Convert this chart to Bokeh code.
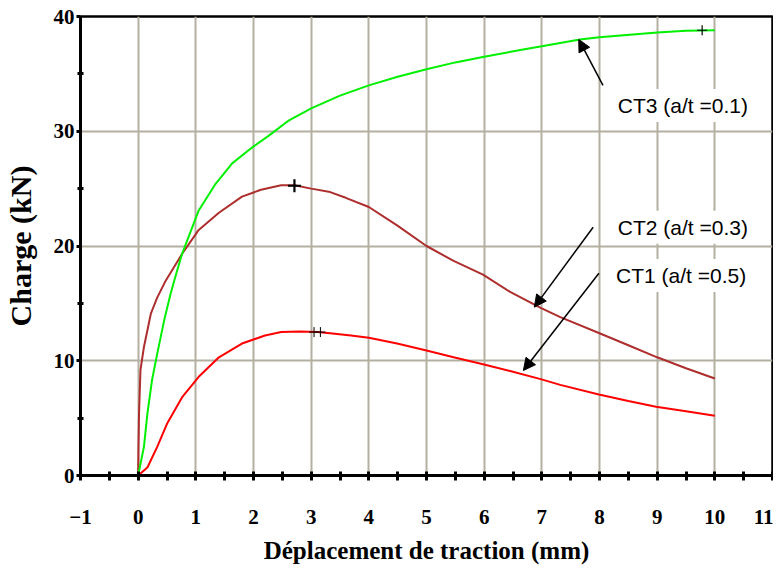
from bokeh.plotting import figure
from bokeh.models import Range1d, FixedTicker, Label, Arrow, NormalHead
from bokeh.embed import file_html
from bokeh.resources import INLINE

# ---- data ----
ct3_x = [0, 0.1, 0.16, 0.24, 0.33, 0.45, 0.56, 0.65, 0.76, 1.05, 1.34, 1.63, 1.98, 2.26, 2.6, 3.0,
         3.5, 4.0, 4.5, 5.0, 5.5, 6.0, 6.65, 7.0, 7.66, 8.0, 9.0, 9.5, 10.0]
ct3_y = [0, 2.5, 5.4, 8.3, 10.6, 13.5, 15.8, 17.4, 19.3, 23.1, 25.4, 27.2, 28.6, 29.6, 30.9, 32.0,
         33.1, 34.0, 34.75, 35.4, 36.0, 36.5, 37.1, 37.4, 38.0, 38.2, 38.6, 38.75, 38.8]

ct2_x = [0, 0.005, 0.015, 0.04, 0.1, 0.22, 0.33, 0.48, 0.76, 1.05, 1.4, 1.8, 2.13, 2.48, 2.71, 3.0,
         3.33, 3.6, 4.0, 4.49, 5.0, 5.47, 5.98, 6.45, 6.98, 7.32, 8.0, 8.5, 9.0, 9.5, 10.0]
ct2_y = [0, 2.5, 5.4, 9.2, 11.2, 14.1, 15.5, 17.0, 19.3, 21.4, 22.9, 24.3, 24.9, 25.3, 25.3, 25.0,
         24.7, 24.2, 23.4, 21.8, 20.0, 18.7, 17.5, 16.0, 14.6, 13.8, 12.4, 11.35, 10.3, 9.35, 8.45]

ct1_x = [0, 0.16, 0.33, 0.5, 0.76, 1.05, 1.4, 1.8, 2.2, 2.48, 2.8, 3.11, 3.33, 3.69, 4.0, 4.49,
         5.0, 5.47, 5.98, 6.45, 6.98, 7.32, 7.99, 8.5, 8.98, 9.5, 10.0]
ct1_y = [0, 0.7, 2.5, 4.5, 6.8, 8.6, 10.3, 11.5, 12.2, 12.5, 12.55, 12.5, 12.4, 12.2, 12.0, 11.5,
         10.9, 10.3, 9.7, 9.1, 8.4, 7.9, 7.06, 6.5, 6.0, 5.6, 5.2]

base_x = [0, 10.73]
base_y = [0, 0]

ct3_peak_x = [9.78]
ct3_peak_y = [38.8]
ct2_peak_x = [2.71]
ct2_peak_y = [25.25]
ct1_peak_x = [3.05, 3.16]
ct1_peak_y = [12.5, 12.5]

x_ticks = list(range(-1, 12))
x_minor = [i + 0.5 for i in range(-1, 11)]
y_ticks = [0, 10, 20, 30, 40]
y_minor = [5, 15, 25, 35]
x_grid = list(range(0, 11))
y_grid = [10, 20, 30]

x_title = "Déplacement de traction (mm)"
y_title = "Charge (kN)"
labels = ["CT3 (a/t =0.1)", "CT2 (a/t =0.3)", "CT1 (a/t =0.5)"]

# ---- figure ----
p = figure(width=773, height=570, x_range=Range1d(-1, 11), y_range=Range1d(0, 40),
           output_backend="svg", toolbar_location=None,
           min_border_left=80, min_border_right=1, min_border_top=16, min_border_bottom=95)
p.background_fill_color = "white"
p.border_fill_color = "white"
p.outline_line_color = "black"
p.outline_line_width = 2.5

p.xaxis.ticker = FixedTicker(ticks=x_ticks, minor_ticks=x_minor)
p.yaxis.ticker = FixedTicker(ticks=y_ticks, minor_ticks=y_minor)
p.xgrid.ticker = FixedTicker(ticks=x_grid)
p.ygrid.ticker = FixedTicker(ticks=y_grid)
for g in (p.xgrid, p.ygrid):
    g.grid_line_color = "#B3AFA1"
    g.grid_line_width = 2

for ax in (p.xaxis, p.yaxis):
    ax.axis_line_color = "black"
    ax.axis_line_width = 3
    ax.major_tick_line_color = "black"
    ax.minor_tick_line_color = "black"
    ax.major_tick_line_width = 3
    ax.minor_tick_line_width = 3
    ax.major_label_text_font = "Liberation Serif"
    ax.major_label_text_font_style = "bold"
    ax.major_label_text_font_size = "21px"
    ax.major_label_text_color = "black"
    ax.axis_label_text_font = "Liberation Serif"
    ax.axis_label_text_font_style = "bold"
    ax.axis_label_text_color = "black"

p.xaxis.major_tick_in = 4
p.xaxis.major_tick_out = 5
p.xaxis.minor_tick_in = 4
p.xaxis.minor_tick_out = 5
p.xaxis.major_label_standoff = 29
p.xaxis.axis_label = x_title
p.xaxis.axis_label_text_font_size = "25px"
p.xaxis.axis_label_standoff = 10

p.yaxis.major_tick_in = 0
p.yaxis.major_tick_out = 4
p.yaxis.minor_tick_in = 3
p.yaxis.minor_tick_out = 3
p.yaxis.major_label_standoff = 2
p.yaxis.axis_label = y_title
p.yaxis.axis_label_text_font_size = "30px"
p.yaxis.axis_label_standoff = 14

# ---- curves ----
p.line(base_x, base_y, line_color="#4FD8D8", line_width=2.5)
p.line(ct2_x, ct2_y, line_color="#AE2E2E", line_width=2)
p.line(ct3_x, ct3_y, line_color="#00F000", line_width=2)
p.line(ct1_x, ct1_y, line_color="#FF0000", line_width=2)

p.scatter(ct3_peak_x, ct3_peak_y, marker="cross", size=10, line_color="black", line_width=1.2)
p.scatter(ct2_peak_x, ct2_peak_y, marker="cross", size=13, line_color="black", line_width=2.2)
p.scatter(ct1_peak_x, ct1_peak_y, marker="cross", size=10, line_color="black", line_width=1)

# ---- annotations ----
label_pos = [(8.23, 32.24), (8.23, 21.64), (8.2, 17.43)]
for (lx, ly), t in zip(label_pos, labels):
    p.add_layout(Label(x=lx, y=ly, text=t, text_font="Liberation Sans", text_font_size="21px",
                       text_baseline="middle", text_align="left", text_color="black",
                       background_fill_color="white", padding=5))

arrows = [(8.06, 33.99, 7.64, 38.0), (7.89, 21.64, 6.87, 14.67), (7.99, 17.63, 6.68, 9.15)]
for xs, ys, xe, ye in arrows:
    p.add_layout(Arrow(end=NormalHead(size=12, fill_color="black", line_color="black", line_width=1),
                       x_start=xs, y_start=ys, x_end=xe, y_end=ye,
                       line_color="black", line_width=1.5))

open("out.html", "w").write(file_html(p, INLINE))
